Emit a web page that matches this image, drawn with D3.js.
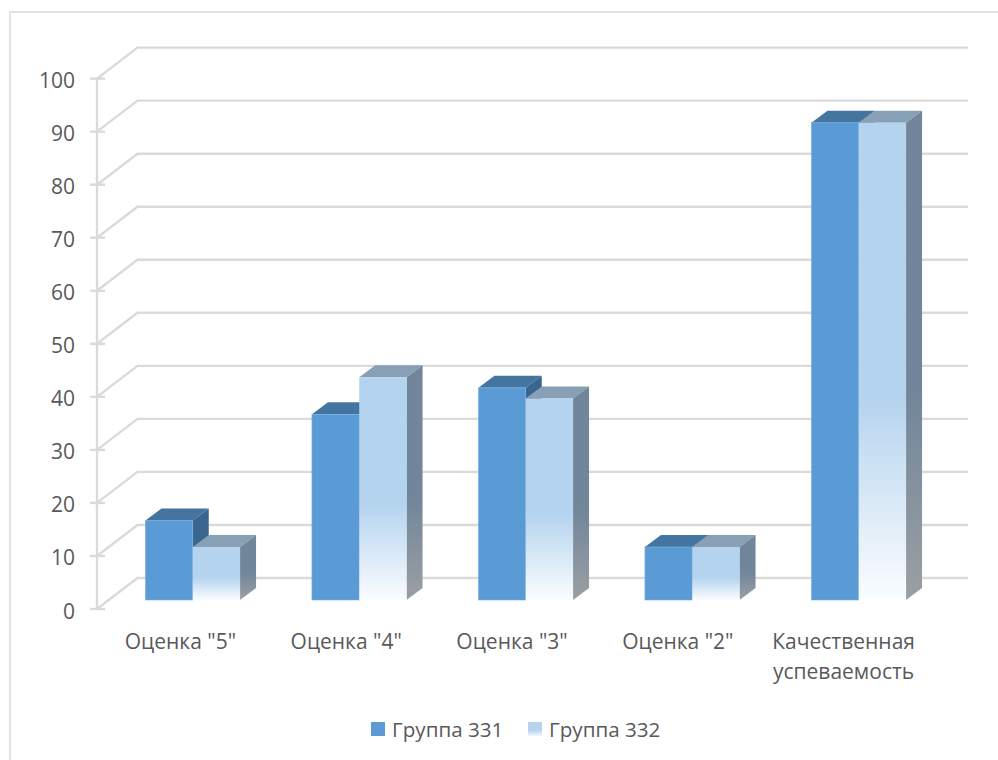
<!DOCTYPE html>
<html lang="ru">
<head>
<meta charset="utf-8">
<title>Успеваемость групп</title>
<script src="https://cdnjs.cloudflare.com/ajax/libs/d3/7.8.5/d3.min.js"></script>
<style>
  html, body { margin: 0; padding: 0; background: #fff; }
  svg { display: block; }
  text { font-family: "Open Sans", "Noto Sans", sans-serif; fill: #595959; }
</style>
</head>
<body>
<svg id="chart" width="998" height="760"></svg>
<script>
const categories = ['Оценка "5"', 'Оценка "4"', 'Оценка "3"', 'Оценка "2"', ['Качественная', 'успеваемость']];
const seriesNames = ["Группа 331", "Группа 332"];
const group331 = [15, 35, 40, 10, 90];
const group332 = [10, 42, 38, 10, 90];
const yTicks = [0, 10, 20, 30, 40, 50, 60, 70, 80, 90, 100];

const svg = d3.select("#chart");
const defs = svg.append("defs");

// Oblique projection used for the floor and walls of the 3D box
const wall = { dx: 40.5, dy: -31 };
const barShift = { dx: 12.5, dy: -9 };
const barDepth = { dx: 16, dy: -12 };
const axisX = 97;
const gridEnd = 968;

const y = d3.scaleLinear().domain([0, 100]).range([609, 78.6]);
const x0 = d3.scaleBand().domain(d3.range(categories.length)).range([axisX, 929.5]);
const xLabel = d3.scaleBand().domain(d3.range(categories.length)).range([97.5, 926.5]);
const x1 = d3.scaleBand().domain([0, 1]).range([0, 94.6]);

function addFade(id, top, bottom) {
  const g = defs.append("linearGradient").attr("id", id)
    .attr("x1", 0).attr("y1", 0).attr("x2", 0).attr("y2", 1);
  g.append("stop").attr("offset", "57%").attr("stop-color", top);
  g.append("stop").attr("offset", "100%").attr("stop-color", bottom);
}
addFade("fade-front", "#b4d3ee", "#fbfdff");
addFade("fade-side", "#71869a", "#9b9fa3");
addFade("fade-swatch", "#b4d3ee", "#f4f8fd");

const styles = [
  { front: "#5b9bd5", top: "#4475a0", side: "#3a658f", edge: "#76ade0" },
  { front: "url(#fade-front)", top: "#87a0b6", side: "url(#fade-side)", edge: "none" }
];

// Chart frame, cut off by the right and bottom page edges
svg.append("path")
  .attr("d", "M10,760V12H998")
  .attr("fill", "none").attr("stroke", "#d9d9d9").attr("stroke-width", 1.4);

// Gridlines on the back wall with their diagonal side-wall segments
const gridG = svg.append("g").attr("fill", "none").attr("stroke", "#dadada").attr("stroke-width", 2.4);
gridG.selectAll("path.grid").data(yTicks).join("path").attr("class", "grid")
  .attr("d", t => d3.line()([
    [axisX, y(t)],
    [axisX + wall.dx, y(t) + wall.dy],
    [gridEnd, y(t) + wall.dy]
  ]));

// Value axis at the front corner
gridG.append("line")
  .attr("x1", axisX).attr("x2", axisX)
  .attr("y1", y(0)).attr("y2", y(100));
gridG.selectAll("line.tick").data(yTicks).join("line").attr("class", "tick")
  .attr("x1", axisX - 7).attr("x2", axisX + 8)
  .attr("y1", t => y(t)).attr("y2", t => y(t));

svg.append("g").selectAll("text").data(yTicks).join("text")
  .attr("x", 75).attr("y", t => y(t) + 9.5)
  .attr("text-anchor", "end").attr("font-size", 21)
  .text(t => t);

// Flatten the series into one list of boxes, first series drawn first in each group
const boxes = categories.flatMap((c, i) => [group331[i], group332[i]].map((v, s) => {
  const left = x0(i) + (x0.bandwidth() - x1.range()[1]) / 2 + x1(s) + barShift.dx;
  return {
    x: left, w: x1.bandwidth(),
    top: y(v) + barShift.dy, base: y(0) + barShift.dy, s
  };
}));

const poly = pts => d3.line()(pts) + "Z";
const box = svg.append("g").selectAll("g").data(boxes).join("g");

box.append("path").attr("fill", d => styles[d.s].top)
  .attr("d", d => poly([
    [d.x, d.top], [d.x + d.w, d.top],
    [d.x + d.w + barDepth.dx, d.top + barDepth.dy], [d.x + barDepth.dx, d.top + barDepth.dy]
  ]));
box.append("path").attr("fill", d => styles[d.s].side)
  .attr("d", d => poly([
    [d.x + d.w, d.top], [d.x + d.w + barDepth.dx, d.top + barDepth.dy],
    [d.x + d.w + barDepth.dx, d.base + barDepth.dy], [d.x + d.w, d.base]
  ]));
box.append("rect")
  .attr("x", d => d.x).attr("y", d => d.top)
  .attr("width", d => d.w).attr("height", d => d.base - d.top)
  .attr("fill", d => styles[d.s].front)
  .attr("stroke", d => styles[d.s].edge).attr("stroke-width", 0.6);

// Category labels, centred under the front edge of each band
const catLabels = svg.append("g").selectAll("text").data(categories).join("text")
  .attr("text-anchor", "middle").attr("font-size", 21);
catLabels.selectAll("tspan").data((c, i) => [c].flat().map(line => ({ line, i }))).join("tspan")
  .attr("x", d => xLabel(d.i) + xLabel.bandwidth() / 2)
  .attr("y", (d, j) => 649 + j * 30)
  .text(d => d.line);

// Legend
const legendX = [371, 528];
const legend = svg.append("g").selectAll("g").data(seriesNames).join("g")
  .attr("transform", (d, i) => `translate(${legendX[i]},722)`);
legend.append("rect").attr("width", 14).attr("height", 14)
  .attr("fill", (d, i) => i === 0 ? "#5b9bd5" : "url(#fade-swatch)");
legend.append("text").attr("x", 21).attr("y", 15).attr("font-size", 20.6).text(d => d);
</script>
</body>
</html>
